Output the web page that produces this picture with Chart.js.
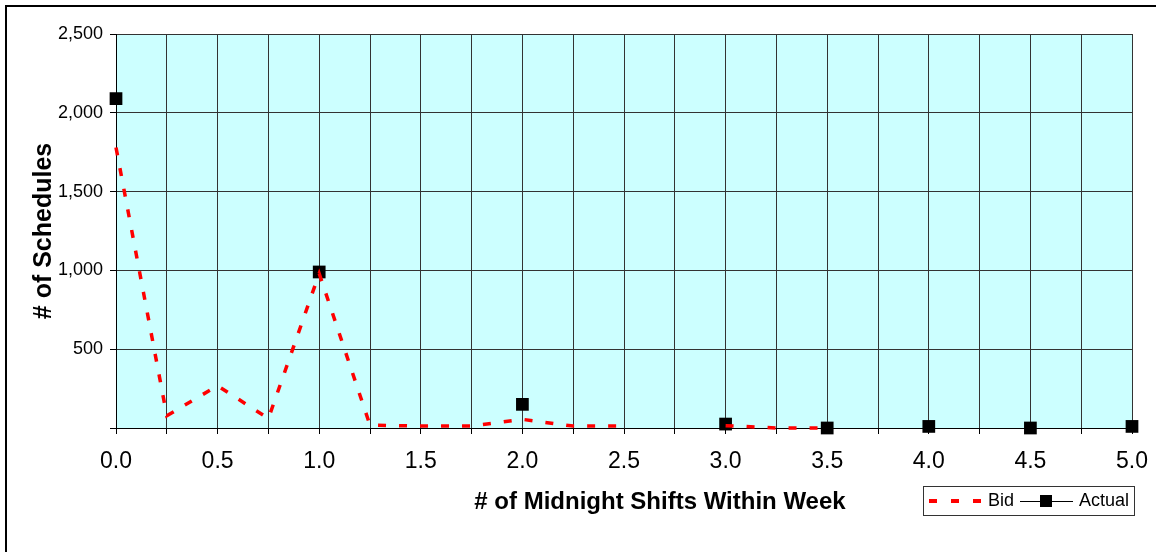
<!DOCTYPE html>
<html>
<head>
<meta charset="utf-8">
<title># of Midnight Shifts Within Week</title>
<script src="https://cdn.jsdelivr.net/npm/chart.js@4/dist/chart.umd.min.js"></script>
<style>
  html, body { margin: 0; padding: 0; background: #fff; }
  canvas { display: block; }
</style>
</head>
<body>
<canvas id="shiftChart" width="1156" height="552"></canvas>
<script>
// midnight shifts per week, one slot every 0.25
const shiftValues = [0, 0.25, 0.5, 0.75, 1, 1.25, 1.5, 1.75, 2, 2.25, 2.5, 2.75, 3, 3.25, 3.5, 3.75, 4, 4.25, 4.5, 4.75, 5];
const bidValues = [1780, 78, 268, 60, 980, 18, 12, 12, 55, 12, 12, null, 15, 0, 0, null, null, null, null, null, null];
const actualValues = [2090, null, null, null, 990, null, null, null, 150, null, null, null, 25, null, 0, null, 10, null, 0, null, 10];
const yTicks = [0, 500, 1000, 1500, 2000, 2500];

const FONT = "'Liberation Sans', Arial, sans-serif";

document.addEventListener('DOMContentLoaded', function () {
  const ctx = document.getElementById('shiftChart').getContext('2d');

  const toPoints = (vals) => shiftValues.map((x, i) => ({ x: x, y: vals[i] }));

  const plotBackground = {
    id: 'plotBackground',
    beforeDraw(chart) {
      const { ctx, chartArea: a } = chart;
      ctx.save();
      ctx.fillStyle = '#ccffff';
      ctx.fillRect(a.left, a.top, a.right - a.left, a.bottom - a.top);
      ctx.restore();
    }
  };

  const extras = {
    id: 'extras',
    afterDraw(chart) {
      const c = chart.ctx;
      c.save();
      // outer frame
      c.strokeStyle = '#000';
      c.lineWidth = 2;
      c.beginPath();
      c.moveTo(6, 552);
      c.lineTo(6, 6);
      c.lineTo(1156, 6);
      c.stroke();

      // x axis title
      c.fillStyle = '#000';
      c.font = 'bold 24px ' + FONT;
      c.textAlign = 'center';
      c.textBaseline = 'middle';
      c.fillText('# of Midnight Shifts Within Week', 660, 502);

      // legend
      c.lineWidth = 1;
      c.strokeStyle = '#333';
      c.strokeRect(923.5, 486.5, 211, 29);
      c.strokeStyle = '#ff0000';
      c.lineWidth = 4;
      c.setLineDash([8, 14]);
      c.beginPath();
      c.moveTo(929, 501);
      c.lineTo(981, 501);
      c.stroke();
      c.setLineDash([]);
      c.strokeStyle = '#000';
      c.lineWidth = 1;
      c.beginPath();
      c.moveTo(1020, 501.5);
      c.lineTo(1073, 501.5);
      c.stroke();
      c.fillStyle = '#000';
      c.fillRect(1040, 495, 12, 12);
      c.font = '18px ' + FONT;
      c.textAlign = 'left';
      c.fillText('Bid', 988, 501);
      c.fillText('Actual', 1079, 501);
      c.restore();
    }
  };

  new Chart(ctx, {
    type: 'line',
    data: {
      datasets: [{
        label: 'Bid',
        data: toPoints(bidValues),
        borderColor: '#ff0000',
        borderWidth: 3.5,
        borderDash: [8, 13],
        pointRadius: 0,
        tension: 0,
        spanGaps: false,
        clip: false
      }, {
        label: 'Actual',
        data: toPoints(actualValues),
        borderColor: '#000',
        backgroundColor: '#000',
        borderWidth: 1,
        showLine: false,
        pointStyle: 'rect',
        pointRadius: 9,
        pointBorderWidth: 0,
        clip: false
      }]
    },
    options: {
      responsive: false,
      animation: false,
      layout: { padding: { top: 34, right: 24, left: 0, bottom: 0 } },
      plugins: {
        legend: { display: false },
        tooltip: { enabled: false }
      },
      scales: {
        x: {
          type: 'linear',
          min: 0,
          max: 5,
          afterFit(scale) {
            scale.height = 124;
            scale.paddingLeft = 0;
            scale.paddingRight = 0;
          },
          grid: { color: '#333', lineWidth: 1, tickLength: 6, tickColor: '#000' },
          border: { color: '#000' },
          ticks: {
            stepSize: 0.25,
            autoSkip: false,
            maxRotation: 0,
            padding: 14,
            color: '#000',
            font: { family: FONT, size: 23 },
            callback: (v) => (Math.abs(v * 2 - Math.round(v * 2)) < 1e-9 ? v.toFixed(1) : '')
          }
        },
        y: {
          min: yTicks[0],
          max: yTicks[yTicks.length - 1],
          afterFit(scale) { scale.width = 116; },
          grid: { color: '#333', lineWidth: 1, tickLength: 6, tickColor: '#000' },
          border: { color: '#000' },
          title: {
            display: true,
            text: '# of Schedules',
            color: '#000',
            font: { family: FONT, size: 25, weight: 'bold' },
            padding: { top: 29, bottom: 0 }
          },
          ticks: {
            stepSize: 500,
            padding: 7,
            color: '#000',
            font: { family: FONT, size: 18 },
            callback: (v) => (v === 0 ? '' : v.toLocaleString('en-US'))
          }
        }
      }
    },
    plugins: [plotBackground, extras]
  });
});
</script>
</body>
</html>
